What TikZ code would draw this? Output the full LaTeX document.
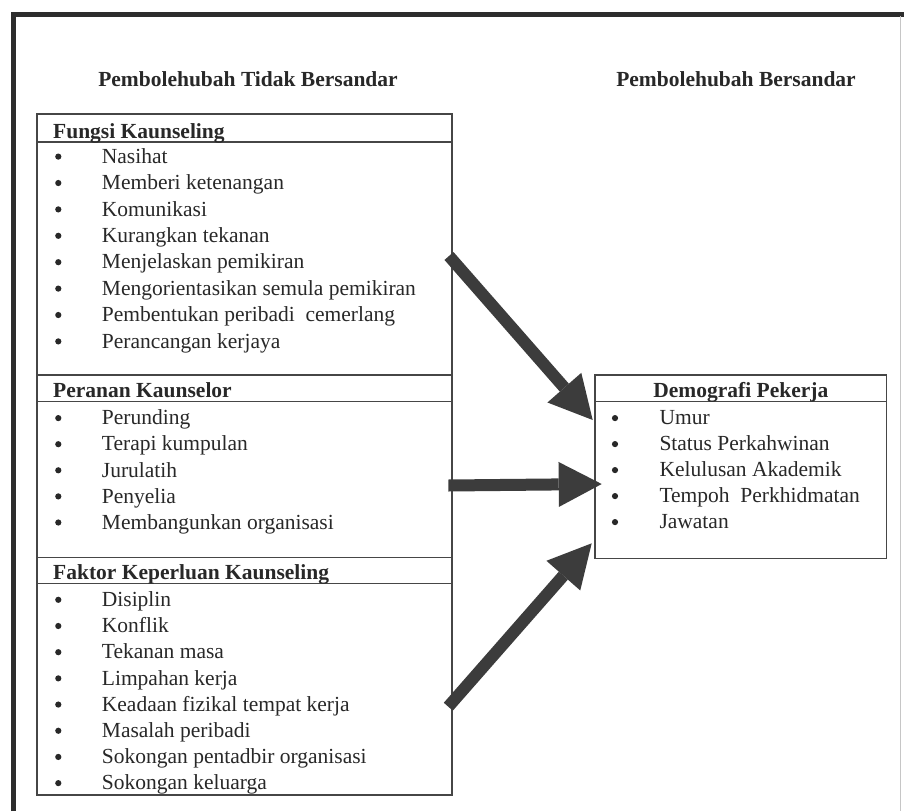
\documentclass[tikz,border=0pt]{standalone}
\usepackage{fontspec}
\setmainfont{Liberation Serif}
\usetikzlibrary{arrows.meta}
\definecolor{ink}{RGB}{40,40,40}
\definecolor{boxc}{RGB}{70,70,70}
\definecolor{arrc}{RGB}{60,60,60}
\definecolor{framec}{RGB}{45,45,45}
\begin{document}
\begin{tikzpicture}[x=1pt,y=-1pt,
  font=\fontsize{21.5}{26}\selectfont,
  txt/.style={anchor=base west, inner sep=0pt, text=ink},
  bul/.style={circle, fill=ink, inner sep=0pt, minimum size=6.2pt},
  hdr/.style={anchor=base west, inner sep=0pt, text=ink, font=\fontsize{21.5}{26}\selectfont\bfseries},
  ttl/.style={anchor=base, inner sep=0pt, text=ink, font=\fontsize{21.5}{26}\selectfont\bfseries},
  box/.style={draw=boxc, line width=1.4pt, anchor=north west, inner sep=0pt, outer sep=0pt},
  rulel/.style={draw=boxc, line width=1.4pt},
  bigarrow/.style={draw=arrc, line width=12pt, -{Triangle[length=43pt,width=45pt,line width=0pt]}},
  frameline/.style={draw=framec, line width=5pt}
]
\useasboundingbox (0,0) rectangle (904,811);
\fill[white] (0,0) rectangle (904,811);

% outer frame
\draw[frameline] (13,811) -- (13,14) -- (904,14);
\draw[gray!45, line width=0.6pt] (900,16) -- (900,811);

% titles
\node[ttl] (tleft) at (248,86) {Pembolehubah Tidak Bersandar};
\node[ttl] (tright) at (736,86) {Pembolehubah Bersandar};

% left box sections
\node[box, minimum width=415pt, minimum height=261pt] (fungsi) at (37,114) {};
\node[box, minimum width=415pt, minimum height=182.3pt] (peranan) at (37,375) {};
\node[box, minimum width=415pt, minimum height=237.7pt] (faktor) at (37,557.3) {};
\draw[rulel] (fungsi.west |- 0,142) -- (fungsi.east |- 0,142);
\draw[rulel] (peranan.west |- 0,401.7) -- (peranan.east |- 0,401.7);
\draw[rulel] (faktor.west |- 0,583.3) -- (faktor.east |- 0,583.3);

% right box
\node[box, minimum width=291.7pt, minimum height=183.3pt] (demog) at (595,375) {};
\draw[rulel] (demog.west |- 0,401.7) -- (demog.east |- 0,401.7);

% headers
\node[hdr] (hf) at (53,138.5) {Fungsi Kaunseling};
\node[hdr] (hp) at (53,397.5) {Peranan Kaunselor};
\node[hdr] (hk) at (53,579) {Faktor Keperluan Kaunseling};
\node[ttl] (hd) at (740.8,397.5) {Demografi Pekerja};

% items
\foreach \t [count=\i from 0] in {Nasihat, Memberi ketenangan, Komunikasi, Kurangkan tekanan, Menjelaskan pemikiran, Mengorientasikan semula pemikiran, Pembentukan peribadi~ cemerlang, Perancangan kerjaya} {
  \node[bul] (fb\i) at (58.3,156.6+26.4*\i) {};
  \node[txt] (ft\i) at (101.7,163.3+26.4*\i) {\t};
}
\foreach \t [count=\i from 0] in {Perunding, Terapi kumpulan, Jurulatih, Penyelia, Membangunkan organisasi} {
  \node[bul] (pb\i) at (58.3,418.1+26.1*\i) {};
  \node[txt] (pt\i) at (101.7,424.8+26.1*\i) {\t};
}
\foreach \t [count=\i from 0] in {Disiplin, Konflik, Tekanan masa, Limpahan kerja, Keadaan fizikal tempat kerja, Masalah peribadi, Sokongan pentadbir organisasi, Sokongan keluarga} {
  \node[bul] (kb\i) at (58.3,599.8+26.19*\i) {};
  \node[txt] (kt\i) at (101.7,606.5+26.19*\i) {\t};
}
\foreach \t [count=\i from 0] in {Umur, Status Perkahwinan, Kelulusan Akademik, Tempoh~ Perkhidmatan, Jawatan} {
  \node[bul] (db\i) at (615,418.1+26*\i) {};
  \node[txt] (dt\i) at (659.3,424.8+26*\i) {\t};
}

% arrows
\coordinate (a1s) at (449,256);
\coordinate (a1e) at (592.7,420);
\coordinate (a2s) at (448.3,485.5);
\coordinate (a2e) at (601.7,484);
\coordinate (a3s) at (448.3,706.7);
\coordinate (a3e) at (591.7,543.3);
\draw[bigarrow] (a1s) -- (a1e);
\draw[bigarrow] (a2s) -- (a2e);
\draw[bigarrow] (a3s) -- (a3e);
\end{tikzpicture}
\end{document}
